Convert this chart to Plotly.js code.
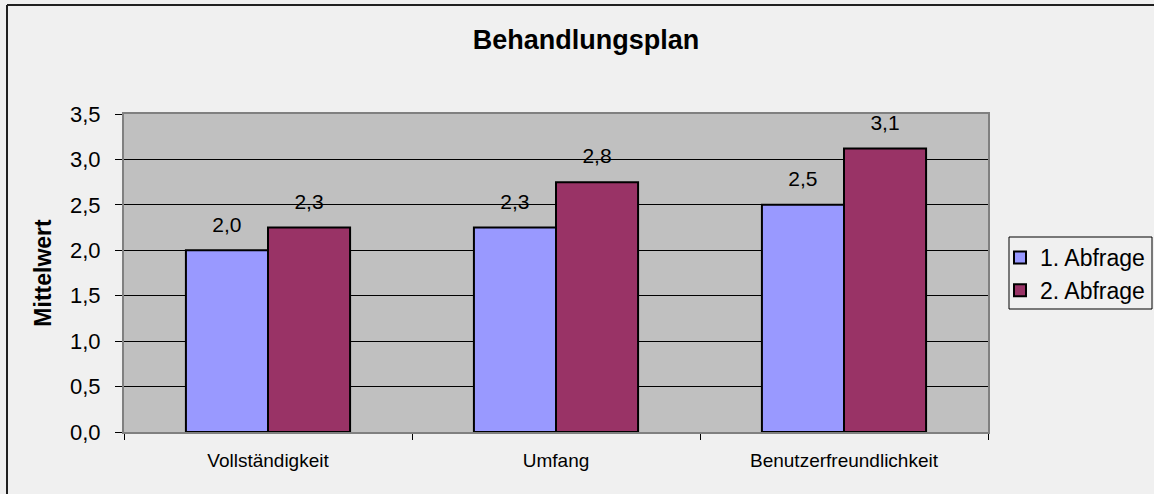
<!DOCTYPE html>
<html>
<head>
<meta charset="utf-8">
<script src="https://cdn.plot.ly/plotly-3.0.1.min.js"></script>
<style>
  html, body { margin: 0; padding: 0; background: #f0f0f0; }
  #chart { width: 1154px; height: 494px; }
</style>
</head>
<body>
<div id="chart"></div>
<script>
const categories = ["Vollständigkeit", "Umfang", "Benutzerfreundlichkeit"];
const seriesNames = ["1. Abfrage", "2. Abfrage"];
const abfrage1 = [2.0, 2.25, 2.5];
const abfrage2 = [2.25, 2.75, 3.12];
const yTickVals = [0, 0.5, 1, 1.5, 2, 2.5, 3, 3.5];

const FONT = "Liberation Sans, Arial, sans-serif";
const colors = ["#9999ff", "#993366"];
const seriesValues = [abfrage1, abfrage2];

const traces = [];
seriesValues.forEach((vals, i) => {
  traces.push({
    type: "bar",
    name: seriesNames[i],
    x: categories,
    y: vals,
    offsetgroup: String(i),
    marker: { color: colors[i], line: { color: "#000000", width: 2 } },
    hoverinfo: "skip"
  });
});
seriesValues.forEach((vals, i) => {
  traces.push({
    type: "scatter",
    mode: "markers+text",
    x: categories,
    y: vals,
    offsetgroup: String(i),
    texttemplate: "%{y:.1f}",
    textposition: "top center",
    textfont: { family: FONT, size: 21, color: "#000000" },
    marker: { size: 20, opacity: 0 },
    showlegend: false,
    hoverinfo: "skip",
    cliponaxis: false
  });
});

const X0 = 124, X1 = 988, Y0 = 114, Y1 = 432, W = 1154, H = 494;
const px = v => (v - X0) / (X1 - X0);
const py = v => (Y1 - v) / (Y1 - Y0);

const layout = {
  width: W,
  height: H,
  paper_bgcolor: "#f0f0f0",
  plot_bgcolor: "#c0c0c0",
  separators: ", ",
  barmode: "group",
  bargap: 0.43,
  bargroupgap: 0,
  scattermode: "group",
  scattergap: 0.43,
  margin: { l: X0, r: W - X1, t: Y0, b: H - Y1, pad: 0, autoexpand: false },
  font: { family: FONT, color: "#000000" },
  title: {
    text: "<b>Behandlungsplan</b>",
    font: { family: FONT, size: 27, color: "#000000" },
    xref: "container", x: 586 / W, xanchor: "center",
    yref: "container", y: 1 - 40 / H, yanchor: "middle"
  },
  xaxis: {
    type: "category",
    tickson: "boundaries",
    ticks: "outside",
    ticklen: 6,
    tickcolor: "#000000",
    tickfont: { family: FONT, size: 19, color: "#000000" },
    ticklabelstandoff: 10,
    showline: true,
    linecolor: "#808080",
    linewidth: 2,
    mirror: true,
    showgrid: false,
    zeroline: false,
    fixedrange: true
  },
  yaxis: {
    range: [0, 3.5],
    tickvals: yTickVals,
    tickformat: ".1f",
    ticks: "outside",
    ticklen: 7,
    tickcolor: "#000000",
    tickfont: { family: FONT, size: 22, color: "#000000" },
    ticklabelstandoff: 10,
    showline: true,
    linecolor: "#808080",
    linewidth: 2,
    mirror: true,
    showgrid: true,
    gridcolor: "#000000",
    gridwidth: 1,
    zeroline: false,
    fixedrange: true,
    title: {
      text: "<b>Mittelwert</b>",
      font: { family: FONT, size: 23, color: "#000000" },
      standoff: 12
    }
  },
  legend: {
    x: px(1000), xanchor: "left",
    y: py(236), yanchor: "top",
    bgcolor: "rgba(0,0,0,0)",
    borderwidth: 0,
    font: { family: FONT, size: 23, color: "#000000" },
    itemwidth: 30,
    tracegroupgap: 0
  },
  shapes: [
    { type: "rect", xref: "paper", yref: "paper", x0: px(1009), x1: px(1152), y0: py(237), y1: py(309), line: { color: "#000000", width: 1 }, fillcolor: "rgba(0,0,0,0)" },
    { type: "line", xref: "paper", yref: "paper", x0: px(7), x1: px(W + 5), y0: py(5), y1: py(5), line: { color: "#202020", width: 2 } },
    { type: "line", xref: "paper", yref: "paper", x0: px(7), x1: px(7), y0: py(5), y1: py(H + 5), line: { color: "#202020", width: 2 } }
  ]
};

Plotly.newPlot("chart", traces, layout, { displayModeBar: false, staticPlot: true });
</script>
</body>
</html>
